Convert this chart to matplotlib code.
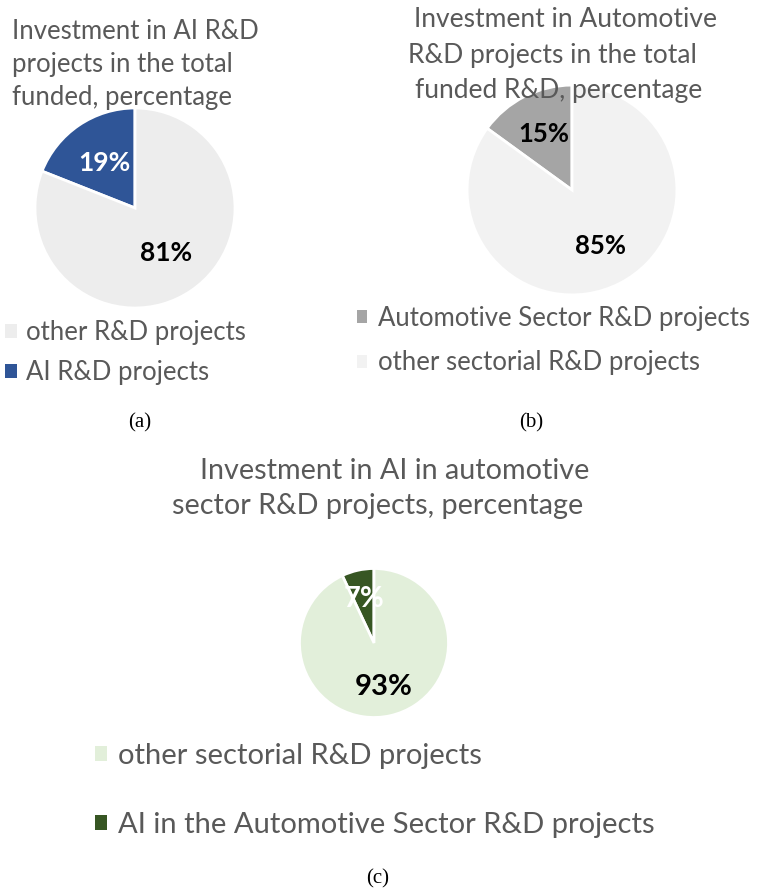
import matplotlib.pyplot as plt
from matplotlib.patches import Patch

W, H = 757, 892

# panel (a)
a_labels = ["AI R&D projects", "other R&D projects"]
a_values = [19, 81]
a_colors = ["#2F5597", "#EDEDED"]
a_pct_colors = ["white", "black"]
a_title = ["Investment in AI R&D", "projects in the total", "funded, percentage"]
a_legend_order = [1, 0]

# panel (b)
b_labels = ["Automotive Sector R&D projects", "other sectorial R&D projects"]
b_values = [15, 85]
b_colors = ["#A5A5A5", "#F2F2F2"]
b_pct_colors = ["black", "black"]
b_title = ["Investment in Automotive", "R&D projects in the total", "funded R&D, percentage"]
b_legend_order = [0, 1]

# panel (c)
c_labels = ["AI in the Automotive Sector R&D projects", "other sectorial R&D projects"]
c_values = [7, 93]
c_colors = ["#375623", "#E2EFDA"]
c_pct_colors = ["white", "black"]
c_title = ["Investment in AI in automotive", "sector R&D projects, percentage"]
c_legend_order = [1, 0]

captions = ["(a)", "(b)", "(c)"]

FONT = ["Lato", "DejaVu Sans"]
GREY = "#595959"

fig = plt.figure(figsize=(W / 100, H / 100), dpi=100)


def fx(x):
    return x / W


def fy(y):
    return 1 - y / H


def pie_panel(cx, cy, r, values, colors, pct_colors, pctdist, pct_size):
    ax = fig.add_axes([fx(cx - r), fy(cy + r), 2 * r / W, 2 * r / H])
    wedges, _, autotexts = ax.pie(values, colors=colors, startangle=90,
                                  autopct="%d%%", pctdistance=pctdist,
                                  wedgeprops=dict(edgecolor="white", linewidth=2),
                                  textprops=dict(family=FONT, fontsize=pct_size,
                                                 fontweight="bold"))
    for t, c in zip(autotexts, pct_colors):
        t.set_color(c)
    ax.set_xlim(-1.02, 1.02)
    ax.set_ylim(-1.02, 1.02)
    ax.axis("off")
    return ax, wedges


def title_lines(lines, xs, ys, size):
    for line, x, y in zip(lines, xs, ys):
        fig.text(fx(x), fy(y), line, ha="left", va="baseline",
                 fontsize=size, color=GREY, family=FONT)


def legend(ax, wedges, labels, order, x, y, size, spacing, hl, pad):
    handles = [Patch(facecolor=wedges[i].get_facecolor(), edgecolor="none") for i in order]
    ax.legend(handles, [labels[i] for i in order], loc="upper left",
              bbox_to_anchor=(fx(x), fy(y)), bbox_transform=fig.transFigure,
              frameon=False, borderpad=0, borderaxespad=0,
              handlelength=hl, handleheight=hl, handletextpad=pad,
              labelspacing=spacing,
              prop=dict(family=FONT, size=size), labelcolor=GREY)


# (a)
ax_a, w_a = pie_panel(135, 208, 102, a_values, a_colors, a_pct_colors, 0.55, 19)
title_lines(a_title, [12, 12, 12], [39, 72, 105], 18.5)
legend(ax_a, w_a, a_labels, a_legend_order, 5, 320, 18.5, 0.6, 0.45, 0.35)

# (b)
ax_b, w_b = pie_panel(572, 190, 107, b_values, b_colors, b_pct_colors, 0.6, 18.5)
title_lines(b_title, [414, 408, 415], [27, 63, 98], 19)
legend(ax_b, w_b, b_labels, b_legend_order, 357, 306, 18.5, 0.75, 0.4, 0.4)

# (c)
ax_c, w_c = pie_panel(374, 643, 76, c_values, c_colors, c_pct_colors, 0.6, 21)
title_lines(c_title, [200, 172], [479, 514], 20.7)
legend(ax_c, w_c, c_labels, c_legend_order, 95, 743, 21, 1.48, 0.41, 0.38)

# captions
for txt, x, y in zip(captions, [140, 531, 378], [427, 427, 883]):
    fig.text(fx(x), fy(y), txt, ha="center", va="baseline", fontsize=15,
             family="Liberation Serif", color="black")

fig.savefig("out.png", dpi=100)
